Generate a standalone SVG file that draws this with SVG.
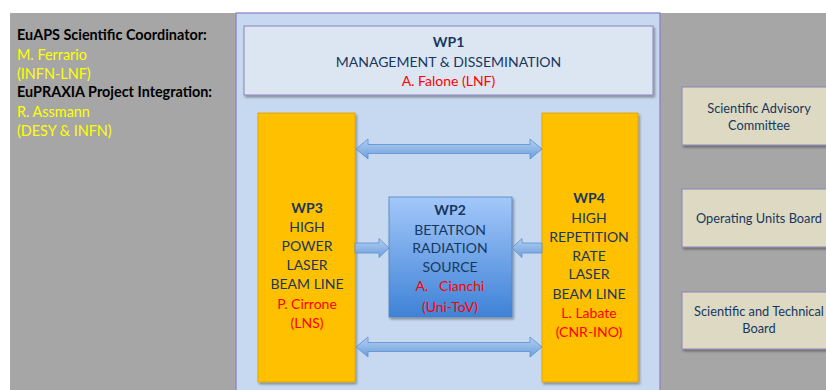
<svg xmlns="http://www.w3.org/2000/svg" width="826" height="390" viewBox="0 0 826 390">
<defs>
<linearGradient id="g2" x1="0" y1="0" x2="0" y2="1"><stop offset="0" stop-color="#a3c8fa"/><stop offset="1" stop-color="#3f82d6"/></linearGradient>
<linearGradient id="ga" x1="0" y1="0" x2="0" y2="1"><stop offset="0" stop-color="#b3cff2"/><stop offset="1" stop-color="#6d9fdc"/></linearGradient>
<filter id="sh" x="-10%" y="-10%" width="130%" height="130%"><feDropShadow dx="1.5" dy="2" stdDeviation="1.2" flood-color="#000" flood-opacity="0.35"/></filter>
<style>
text{font-family:Lato,"Liberation Sans",Arial,sans-serif;text-anchor:middle;font-size:14px;fill:#17375e}
.b{font-weight:bold}
.r{fill:#ff0000}
.y{fill:#ffff00;text-anchor:start;font-size:14.4px}
.k{fill:#000;text-anchor:start;font-weight:bold;font-size:14.4px}
.s{font-size:12.8px}
.arrow{fill:url(#ga);stroke:#5b8fd0;stroke-width:0.8}
</style>
</defs>
<rect x="0" y="0" width="826" height="390" fill="#ffffff"/>
<rect x="10" y="13" width="816" height="377" fill="#a6a6a6"/>
<g id="coordinators">
<text class="k" x="17" y="40">EuAPS Scientific Coordinator:</text>
<text class="y" x="17" y="60">M. Ferrario</text>
<text class="y" x="17" y="79">(INFN-LNF)</text>
<text class="k" x="17" y="97">EuPRAXIA Project Integration:</text>
<text class="y" x="17" y="117">R. Assmann</text>
<text class="y" x="17" y="136">(DESY &amp; INFN)</text>
</g>
<g id="panel">
<rect x="236" y="13" width="424" height="380" fill="#c6d9f0" stroke="#8e7cc3" stroke-width="1.2"/>
</g>
<g id="wp1">
<rect x="244" y="26" width="409" height="69" fill="#dce6f2" stroke="#8c84b8" stroke-width="1" filter="url(#sh)"/>
<text class="b" x="448.5" y="47">WP1</text>
<text x="448.5" y="67">MANAGEMENT &amp; DISSEMINATION</text>
<text class="r" x="448.5" y="86">A. Falone (LNF)</text>
</g>
<g id="wp3">
<rect x="258" y="113" width="97" height="269" fill="#ffc000" stroke="#d9a100" stroke-width="0.8" filter="url(#sh)"/>
<text class="b" x="307" y="213">WP3</text>
<text x="307" y="232">HIGH</text>
<text x="307" y="251">POWER</text>
<text x="307" y="270">LASER</text>
<text x="307" y="289">BEAM LINE</text>
<text class="r" x="307" y="309">P. Cirrone</text>
<text class="r" x="307" y="328">(LNS)</text>
</g>
<g id="wp4">
<rect x="542" y="113" width="96" height="269" fill="#ffc000" stroke="#d9a100" stroke-width="0.8" filter="url(#sh)"/>
<text class="b" x="589" y="203">WP4</text>
<text x="589" y="223">HIGH</text>
<text x="589" y="242">REPETITION</text>
<text x="589" y="261">RATE</text>
<text x="589" y="279">LASER</text>
<text x="589" y="299">BEAM LINE</text>
<text class="r" x="589" y="318">L. Labate</text>
<text class="r" x="589" y="337">(CNR-INO)</text>
</g>
<g id="wp2">
<rect x="389" y="197" width="123" height="120" fill="url(#g2)" stroke="#4f81bd" stroke-width="0.8" filter="url(#sh)"/>
<text class="b" x="450" y="215">WP2</text>
<text x="450" y="235">BETATRON</text>
<text x="450" y="253">RADIATION</text>
<text x="450" y="272">SOURCE</text>
<text class="r" x="450" y="291" xml:space="preserve">A.   Cianchi</text>
<text class="r" x="450" y="312">(Uni-ToV)</text>
</g>
<g id="connectors">
<path class="arrow" d="M356,149 L368,139 L368,144.5 L530,144.5 L530,139 L542,149 L530,159 L530,153.5 L368,153.5 L368,159 Z"/>
<path class="arrow" d="M356,347 L368,337 L368,342.5 L530,342.5 L530,337 L542,347 L530,357 L530,351.5 L368,351.5 L368,357 Z"/>
<path class="arrow" d="M355,243 L379,243 L379,238.5 L389,248 L379,257.5 L379,253 L355,253 Z"/>
<path class="arrow" d="M542,243 L522,243 L522,238.5 L512,248 L522,257.5 L522,253 L542,253 Z"/>
</g>
<g id="sac">
<rect x="682" y="87" width="150" height="58" fill="#ddd9c3" stroke="#8c84b8" stroke-width="1" filter="url(#sh)"/>
<text class="s" x="759" y="113">Scientific Advisory</text>
<text class="s" x="759" y="130">Committee</text>
</g>
<g id="oub">
<rect x="682" y="189" width="150" height="58" fill="#ddd9c3" stroke="#8c84b8" stroke-width="1" filter="url(#sh)"/>
<text class="s" x="759" y="223">Operating Units Board</text>
</g>
<g id="stb">
<rect x="682" y="292" width="150" height="57" fill="#ddd9c3" stroke="#8c84b8" stroke-width="1" filter="url(#sh)"/>
<text class="s" x="759" y="316">Scientific and Technical</text>
<text class="s" x="759" y="333">Board</text>
</g>
</svg>
